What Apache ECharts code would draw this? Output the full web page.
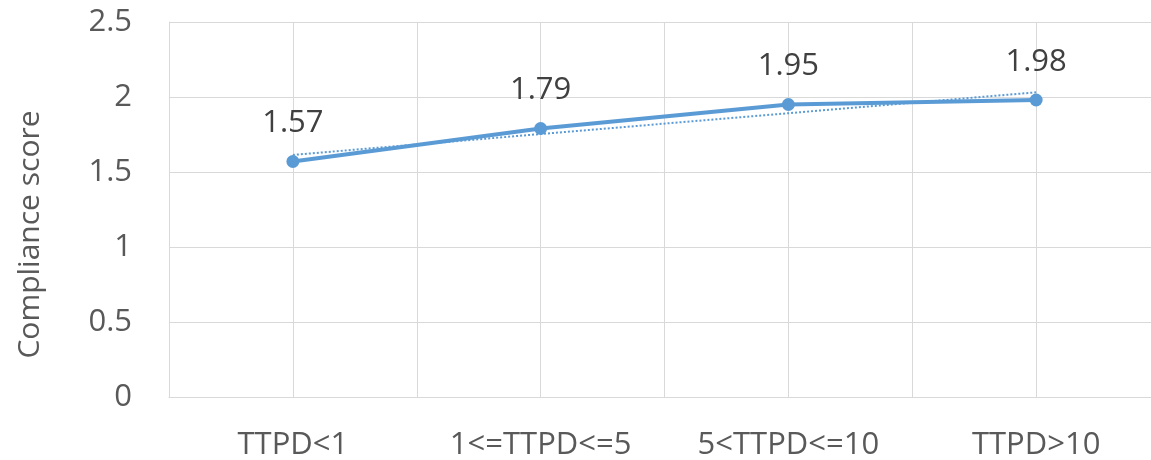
<!DOCTYPE html>
<html>
<head>
<meta charset="utf-8">
<script src="https://cdn.jsdelivr.net/npm/echarts@6/dist/echarts.min.js"></script>
<style>
  html, body { margin: 0; padding: 0; background: #fff; }
  #chart { width: 1151px; height: 460px; }
</style>
</head>
<body>
<div id="chart"></div>
<script>
// Compliance score by TTPD group
const categories = ['TTPD<1', '1<=TTPD<=5', '5<TTPD<=10', 'TTPD>10'];
const scores = [1.57, 1.79, 1.95, 1.98];
const yTicks = [0, 0.5, 1, 1.5, 2, 2.5];

// Linear least-squares trend over the category index
function linearTrend(values) {
  const n = values.length;
  const xs = values.map((_, i) => i + 1);
  const mx = xs.reduce((a, b) => a + b, 0) / n;
  const my = values.reduce((a, b) => a + b, 0) / n;
  let sxy = 0, sxx = 0;
  for (let i = 0; i < n; i++) {
    sxy += (xs[i] - mx) * (values[i] - my);
    sxx += (xs[i] - mx) * (xs[i] - mx);
  }
  const slope = sxy / sxx;
  return xs.map(x => my + slope * (x - mx));
}
const trend = linearTrend(scores);

const blue = '#5B9BD5';
const font = '"Open Sans", "Liberation Sans", sans-serif';

const chart = echarts.init(document.getElementById('chart'), null, { renderer: 'canvas' });
chart.setOption({
  animation: false,
  backgroundColor: '#ffffff',
  // plot area runs a little past the right edge of the canvas
  grid: {
    left: 169, width: 991, top: 22, height: 375,
    containLabel: false,
    outerBoundsMode: 'none'
  },
  xAxis: [
    {
      type: 'category',
      data: categories,
      boundaryGap: true,
      axisLine: { show: true, lineStyle: { color: '#d9d9d9', width: 1 } },
      axisTick: { show: false },
      splitLine: { show: false },
      axisLabel: { color: '#595959', fontSize: 31, fontFamily: font, margin: 33 }
    },
    {
      // half-band grid lines
      type: 'value',
      min: 0, max: 8, interval: 1,
      position: 'bottom',
      axisLine: { show: false },
      axisTick: { show: false },
      axisLabel: { show: false },
      splitLine: { show: true, lineStyle: { color: '#d9d9d9', width: 1 } }
    }
  ],
  yAxis: {
    type: 'value',
    min: yTicks[0],
    max: yTicks[yTicks.length - 1],
    interval: 0.5,
    name: 'Compliance score',
    nameLocation: 'middle',
    nameGap: 124,
    nameTextStyle: { color: '#595959', fontSize: 30, fontFamily: font, padding: [0, 50, 0, 0] },
    axisLine: { show: true, lineStyle: { color: '#d9d9d9', width: 1 } },
    axisTick: { show: false },
    axisLabel: { color: '#595959', fontSize: 31, fontFamily: font, margin: 37 },
    splitLine: { show: true, lineStyle: { color: '#d9d9d9', width: 1 } }
  },
  series: [
    {
      name: 'Trend',
      type: 'line',
      xAxisIndex: 0,
      data: trend,
      symbol: 'none',
      lineStyle: { color: blue, width: 2, type: 'dotted' },
      z: 2
    },
    {
      name: 'Compliance score',
      type: 'line',
      xAxisIndex: 0,
      data: scores,
      symbol: 'circle',
      symbolSize: 13,
      itemStyle: { color: blue },
      lineStyle: { color: blue, width: 4 },
      label: {
        show: true,
        position: 'top',
        distance: 16,
        color: '#404040',
        fontSize: 31,
        fontFamily: font
      },
      z: 3
    }
  ]
});
</script>
</body>
</html>
